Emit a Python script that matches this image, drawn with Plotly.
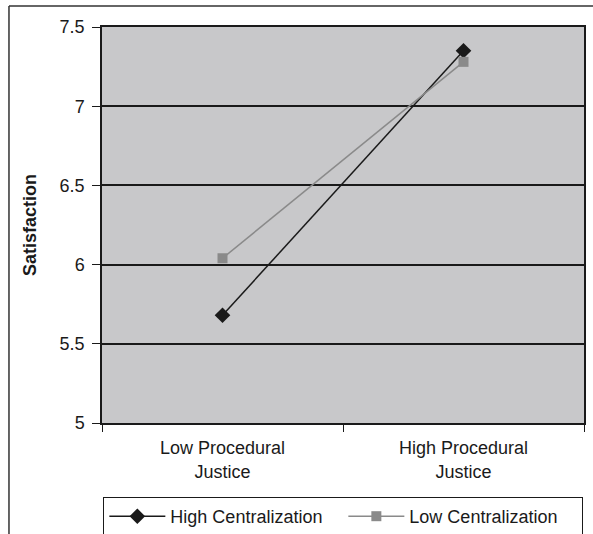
import plotly.graph_objects as go

categories = ["Low Procedural<br>Justice", "High Procedural<br>Justice"]
high_centralization = [5.68, 7.35]
low_centralization = [6.04, 7.28]
y_ticks = [5, 5.5, 6, 6.5, 7, 7.5]
y_tick_labels = ["5", "5.5", "6", "6.5", "7", "7.5"]

FONT = "Liberation Sans, Arial, sans-serif"
FS = 18

fig = go.Figure()
fig.add_trace(go.Scatter(
    x=categories, y=high_centralization, name="High Centralization",
    mode="lines+markers",
    line=dict(color="#1a1a1a", width=1.5),
    marker=dict(symbol="diamond", size=12, color="#1a1a1a"),
))
fig.add_trace(go.Scatter(
    x=categories, y=low_centralization, name="Low Centralization",
    mode="lines+markers",
    line=dict(color="#8a8a8a", width=1.5),
    marker=dict(symbol="square", size=10, color="#8a8a8a"),
))

fig.update_layout(
    width=593, height=534,
    margin=dict(l=102, r=9, t=27, b=111, autoexpand=False),
    paper_bgcolor="white",
    plot_bgcolor="#c8c8ca",
    font=dict(family=FONT, size=FS, color="#1a1a1a"),
    showlegend=True,
    legend=dict(
        orientation="h", x=0.579, xref="container", xanchor="center",
        y=0.0693, yref="container", yanchor="top",
        bordercolor="#1a1a1a", borderwidth=1, bgcolor="white",
        font=dict(family=FONT, size=FS, color="#1a1a1a"),
        itemwidth=56, entrywidth=168, entrywidthmode="pixels",
    ),
    xaxis=dict(
        type="category",
        automargin=False,
        tickson="boundaries",
        ticks="outside", ticklen=7, tickcolor="#1a1a1a", tickwidth=1,
        ticklabelstandoff=8,
        showgrid=False,
        showline=True, linecolor="#1a1a1a", linewidth=1.5,
        mirror=True,
        range=[-0.5, 1.5],
        tickfont=dict(family=FONT, size=FS, color="#1a1a1a"),
    ),
    yaxis=dict(
        range=[5, 7.5],
        automargin=False,
        tickvals=y_ticks, ticktext=y_tick_labels,
        ticks="outside", ticklen=8, tickcolor="#1a1a1a", tickwidth=1,
        ticklabelstandoff=4,
        showgrid=True, gridcolor="#1a1a1a", gridwidth=1.5,
        showline=True, linecolor="#1a1a1a", linewidth=1.5,
        mirror=True,
        zeroline=False,
        tickfont=dict(family=FONT, size=FS, color="#1a1a1a"),
        title=dict(text="<b>Satisfaction</b>", standoff=18,
                   font=dict(family=FONT, size=FS, color="#1a1a1a")),
    ),
)

# outer chart frame (clipped at right and bottom in the reference)
fig.add_shape(type="line", xref="paper", yref="paper",
              x0=-0.193, x1=1.05, y0=1.053, y1=1.053,
              line=dict(color="#333333", width=1.5))
fig.add_shape(type="line", xref="paper", yref="paper",
              x0=-0.193, x1=-0.193, y0=1.053, y1=-0.3,
              line=dict(color="#333333", width=1.5))

fig.write_html("out.html", config={"displayModeBar": False},
               post_script="document.body.style.margin='0';")
